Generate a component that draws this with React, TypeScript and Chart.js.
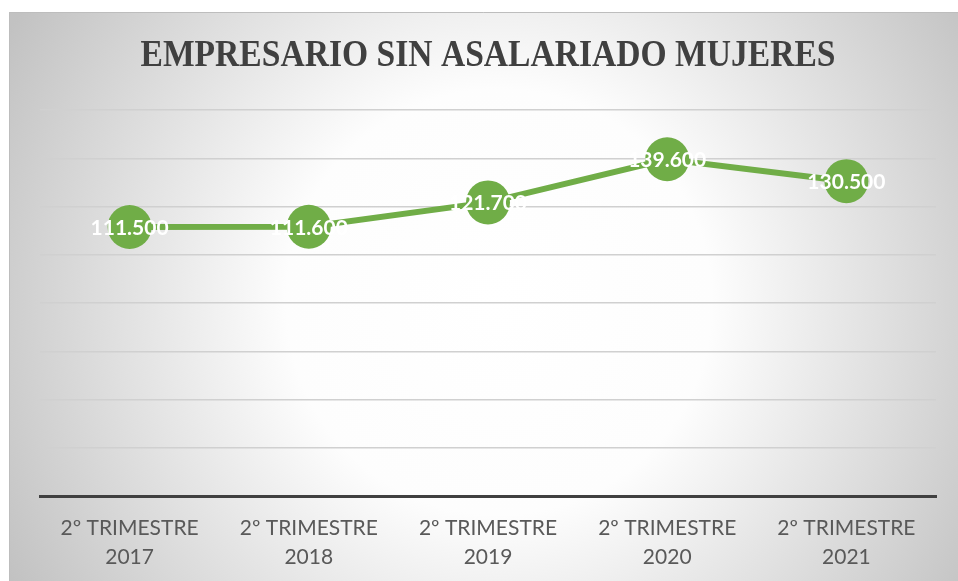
import React, { useEffect, useRef } from "react";
import { Chart, registerables } from "chart.js";

Chart.register(...registerables);

const TITLE = "EMPRESARIO SIN ASALARIADO MUJERES";
const categories: string[][] = [
  ["2º TRIMESTRE", "2017"],
  ["2º TRIMESTRE", "2018"],
  ["2º TRIMESTRE", "2019"],
  ["2º TRIMESTRE", "2020"],
  ["2º TRIMESTRE", "2021"],
];
const values: number[] = [111500, 111600, 121700, 139600, 130500];
const Y_MIN = 0;
const Y_MAX = 160000;
const Y_STEP = 20000;

const fmt = (v: number) => String(v).replace(/\B(?=(\d{3})+(?!\d))/g, ".");

const W = 949;
const H = 569;
const TITLE_WIDTH = 695;

const bgPlugin = {
  id: "bgPlugin",
  beforeDraw(chart: any) {
    const { ctx } = chart;
    ctx.save();
    const cx = 490;
    const cy = 290;
    const g = ctx.createRadialGradient(cx, cy, 0, cx, cy, 560);
    g.addColorStop(0, "#ffffff");
    g.addColorStop(0.38, "#fdfdfd");
    g.addColorStop(1, "#c2c2c2");
    ctx.fillStyle = g;
    ctx.fillRect(0, 0, W, H);
    ctx.strokeStyle = "#bdbdbd";
    ctx.lineWidth = 1;
    ctx.beginPath();
    ctx.moveTo(0.5, H);
    ctx.lineTo(0.5, 0.5);
    ctx.lineTo(W, 0.5);
    ctx.stroke();
    // title
    const ca = chart.chartArea;
    ctx.fillStyle = "#404040";
    ctx.font = 'bold 38px "Liberation Serif"';
    ctx.textAlign = "center";
    ctx.textBaseline = "middle";
    const w = ctx.measureText(TITLE).width;
    const sx = TITLE_WIDTH / w;
    ctx.translate((ca.left + ca.right) / 2, 44);
    ctx.scale(sx, 1);
    ctx.fillText(TITLE, 0, 0);
    ctx.restore();
  },
};

const labelPlugin = {
  id: "labelPlugin",
  afterDatasetsDraw(chart: any) {
    const { ctx } = chart;
    const meta = chart.getDatasetMeta(0);
    ctx.save();
    ctx.fillStyle = "#ffffff";
    ctx.font = 'bold 21px "Lato"';
    ctx.textAlign = "center";
    ctx.textBaseline = "middle";
    meta.data.forEach((pt: any, i: number) => {
      ctx.fillText(fmt(values[i]), pt.x, pt.y + 1);
    });
    ctx.restore();
  },
};

export default function App() {
  const ref = useRef<HTMLCanvasElement | null>(null);
  useEffect(() => {
    if (!ref.current) return;
    const chart = new Chart(ref.current, {
      type: "line",
      data: {
        labels: categories,
        datasets: [
          {
            data: values,
            borderColor: "#70AD47",
            backgroundColor: "#70AD47",
            borderWidth: 6,
            pointRadius: 22,
            pointHoverRadius: 22,
            pointBackgroundColor: "#70AD47",
            pointBorderWidth: 0,
            tension: 0,
          },
        ],
      },
      options: {
        responsive: false,
        animation: false,
        events: [],
        layout: { padding: { top: 98, left: 0, right: 18, bottom: 0 } },
        plugins: {
          legend: { display: false },
          title: { display: false },
          tooltip: { enabled: false },
        },
        scales: {
          x: {
            offset: true,
            grid: { display: false, drawTicks: false },
            border: { display: true, color: "#404040", width: 3 },
            ticks: {
              color: "#595959",
              font: { family: "Lato", size: 21, lineHeight: 1.38 },
              padding: 18,
              maxRotation: 0,
              autoSkip: false,
            },
            afterFit: (s: any) => {
              s.height = 85;
            },
          },
          y: {
            min: Y_MIN,
            max: Y_MAX,
            ticks: { display: false, stepSize: Y_STEP },
            grid: { color: "#d0d0d0", lineWidth: 1.5, drawTicks: false },
            border: { display: false },
            afterFit: (s: any) => {
              s.width = 31;
            },
          },
        },
      },
      plugins: [bgPlugin, labelPlugin],
    });
    return () => chart.destroy();
  }, []);
  return (
    <div style={{ position: "fixed", left: 9, top: 12, width: W, height: H }}>
      <canvas ref={ref} width={W} height={H} style={{ width: W, height: H, display: "block" }} />
    </div>
  );
}
